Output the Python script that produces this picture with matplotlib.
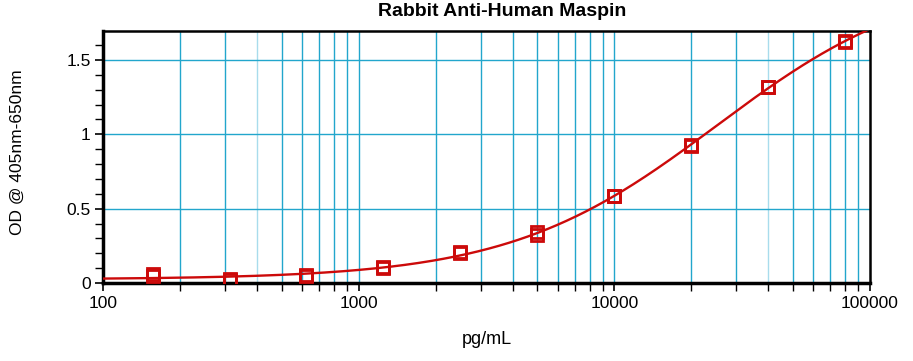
import numpy as np
import matplotlib
matplotlib.use("Agg")
import matplotlib.pyplot as plt
from matplotlib.ticker import FixedLocator, NullFormatter, MultipleLocator

matplotlib.rcParams['font.family'] = ['Liberation Sans', 'DejaVu Sans']

# standard curve data (pg/mL), duplicate OD readings
conc = [156.25, 312.5, 625, 1250, 2500, 5000, 10000, 20000, 40000, 80000]
od_rep1 = [0.060, 0.030, 0.055, 0.110, 0.210, 0.340, 0.585, 0.930, 1.320, 1.630]
od_rep2 = [0.045, 0.022, 0.045, 0.100, 0.200, 0.320, 0.585, 0.920, 1.320, 1.620]

title = 'Rabbit Anti-Human Maspin'
xlabel = 'pg/mL'
ylabel = 'OD @ 405nm-650nm'

red = '#CC0A0A'
grid_c = '#22A6CC'
grid_light = '#A8DCEC'

# 4PL fit: grid over slope/EC50, linear solve for bottom/top
x_all = np.array(conc * 2, dtype=float)
y_all = np.array(od_rep1 + od_rep2)
best = None
for b in np.linspace(0.5, 2.5, 201):
    for c in np.logspace(3.5, 5.5, 201):
        g = 1.0 / (1.0 + (x_all / c) ** b)
        M = np.column_stack([g, 1 - g])
        coef, res, _, _ = np.linalg.lstsq(M, y_all, rcond=None)
        err = np.sum((M @ coef - y_all) ** 2)
        if best is None or err < best[0]:
            best = (err, b, c, coef)
_, B, C, (A, D) = best

xs = np.logspace(2, 5, 400)
ys = D + (A - D) / (1 + (xs / C) ** B)

fig = plt.figure(figsize=(9.13, 3.61), dpi=100)
ax = fig.add_axes([103 / 913, 1 - 283 / 361, (870 - 103) / 913, (283 - 31) / 361])

ax.set_xscale('log')
ax.set_xlim(100, 100000)
ax.set_ylim(0, 1.695)

# grid lines
for dec in [100, 1000, 10000]:
    for m in range(2, 10):
        v = dec * m
        ax.axvline(v, color=grid_light if m == 4 and dec != 1000 else grid_c, lw=1.0, zorder=1)
for v in [1000, 10000]:
    ax.axvline(v, color=grid_c, lw=1.0, zorder=1)
for v in [0.5, 1.0, 1.5]:
    ax.axhline(v, color=grid_c, lw=1.0, zorder=1)

ax.plot(xs, ys, color=red, lw=1.7, zorder=3)
ax.plot(conc, od_rep1, ls='none', marker='s', ms=9, mfc='none', mec=red, mew=2.0, zorder=4)
ax.plot(conc, od_rep2, ls='none', marker='s', ms=9, mfc='none', mec=red, mew=2.0, zorder=4)

ax.xaxis.set_major_locator(FixedLocator([100, 1000, 10000, 100000]))
ax.xaxis.set_minor_locator(FixedLocator([d * m for d in [100, 1000, 10000] for m in range(2, 10)]))
ax.xaxis.set_minor_formatter(NullFormatter())
ax.set_xticklabels(['100', '1000', '10000', '100000'])
ax.yaxis.set_major_locator(FixedLocator([0, 0.5, 1.0, 1.5]))
ax.set_yticklabels(['0', '0.5', '1', '1.5'])
ax.yaxis.set_minor_locator(MultipleLocator(0.1))

ax.tick_params(axis='both', which='major', labelsize=12.5, length=6, width=1.2, direction='out', pad=3)
ax.tick_params(axis='both', which='minor', length=6, width=1.0, direction='out')

ax.spines['left'].set_linewidth(2.5)
ax.spines['bottom'].set_linewidth(2.5)
ax.spines['top'].set_linewidth(1.8)
ax.spines['right'].set_linewidth(1.8)

fig.text(502 / 913, 1 - 12 / 361, title, ha='center', va='center', fontsize=14, fontweight='bold')
fig.text(487 / 913, 1 - 339 / 361, xlabel, ha='center', va='center', fontsize=13)
fig.text(17 / 913, 1 - 152 / 361, ylabel, ha='center', va='center', fontsize=12.5, rotation=90)

fig.savefig('out.png', dpi=100)
